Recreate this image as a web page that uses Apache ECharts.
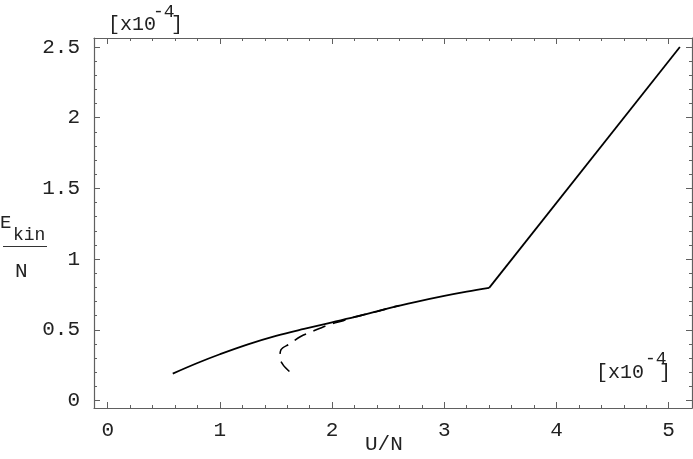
<!DOCTYPE html>
<html>
<head>
<meta charset="utf-8">
<script src="https://cdn.jsdelivr.net/npm/echarts@6/dist/echarts.min.js"></script>
<style>
  html, body { margin: 0; padding: 0; background: #fff; }
  #chart { width: 693px; height: 459px; }
</style>
</head>
<body>
<div id="chart"></div>
<script>
// solid curve: [U/N, Ekin/N] in units of 1e-4 (kink at U/N = 3.4)
let solidU = [0.58, 0.8, 1.0, 1.25, 1.5, 1.75, 2.0, 2.25, 2.5, 2.75, 3.0, 3.2, 3.4, 5.1]
let solidE = [0.19, 0.265, 0.327, 0.397, 0.457, 0.507, 0.553, 0.60, 0.652, 0.698, 0.740, 0.77, 0.797, 2.5]

// dashed branch
let dashU = [1.62, 1.565, 1.535, 1.545, 1.62, 1.72, 1.82, 1.92, 2.0, 2.1, 2.2, 2.3, 2.4, 2.5, 2.6]
let dashE = [0.205, 0.25, 0.30, 0.36, 0.40, 0.453, 0.487, 0.52, 0.543, 0.565, 0.59, 0.61, 0.63, 0.652, 0.672]

let xTicks = [0, 1, 2, 3, 4, 5]
let yTicks = [0, 0.5, 1, 1.5, 2, 2.5]
let yTickLabels = ['0', '0.5', '1', '1.5', '2', '2.5']

let xMin = -0.122, xMax = 5.208
let yMin = -0.053, yMax = 2.564

// minor ticks between majors
let xMinor = []
for (let v = 0; v <= 5.2; v += 0.2) xMinor.push(+v.toFixed(2))
let yMinor = []
for (let v = 0; v <= 2.56; v += 0.1) yMinor.push(+v.toFixed(2))

let font = 'Liberation Mono'
let axisColor = '#606060'
let kink = solidU.indexOf(3.4)

function xAx(pos, ticks, len, withLine, withLabel) {
	return {
		type: 'value', position: pos, min: xMin, max: xMax,
		axisLine: { show: withLine, onZero: false, lineStyle: { color: axisColor, width: 1.2 } },
		axisTick: { show: true, inside: true, length: len, customValues: ticks, lineStyle: { color: axisColor } },
		axisLabel: withLabel ? {
			show: true, customValues: xTicks, margin: 12,
			fontFamily: font, fontSize: 21, color: '#222'
		} : { show: false },
		splitLine: { show: false }
	}
}
function yAx(pos, ticks, len, withLine, withLabel) {
	return {
		type: 'value', position: pos, min: yMin, max: yMax,
		axisLine: { show: withLine, onZero: false, lineStyle: { color: axisColor, width: 1.2 } },
		axisTick: { show: true, inside: true, length: len, customValues: ticks, lineStyle: { color: axisColor } },
		axisLabel: withLabel ? {
			show: true, customValues: yTicks, margin: 14,
			fontFamily: font, fontSize: 21, color: '#222',
			formatter: v => yTickLabels[yTicks.indexOf(+v.toFixed(2))] || ''
		} : { show: false },
		splitLine: { show: false }
	}
}

let chart = echarts.init(document.getElementById('chart'))
let option = {
	animation: false,
	backgroundColor: '#fff',
	grid: { left: 94, right: 1, top: 38, bottom: 51, containLabel: false },
	xAxis: [
		xAx('bottom', xTicks, 6, true, true),
		xAx('bottom', xMinor, 3, false, false),
		xAx('top', xTicks, 6, true, false),
		xAx('top', xMinor, 3, false, false)
	],
	yAxis: [
		yAx('left', yTicks, 6, true, true),
		yAx('left', yMinor, 3, false, false),
		yAx('right', yTicks, 6, true, false),
		yAx('right', yMinor, 3, false, false)
	],
	series: [{
		// curved part up to the kink
		type: 'line',
		xAxisIndex: 0, yAxisIndex: 0,
		data: solidU.slice(0, kink + 1).map((u, i) => [u, solidE[i]]),
		showSymbol: false,
		smooth: 0.4,
		lineStyle: { color: '#000', width: 1.8 }
	}, {
		// straight part after the kink
		type: 'line',
		xAxisIndex: 0, yAxisIndex: 0,
		data: solidU.slice(kink).map((u, i) => [u, solidE[kink + i]]),
		showSymbol: false,
		lineStyle: { color: '#000', width: 1.8 }
	}, {
		type: 'line',
		xAxisIndex: 0, yAxisIndex: 0,
		data: dashU.map((u, i) => [u, dashE[i]]),
		showSymbol: false,
		smooth: 0.3,
		lineStyle: { color: '#000', width: 1.6, type: [13, 8] }
	}],
	graphic: [
		// top axis multiplier
		{ type: 'text', left: 108, top: 15, style: { text: '[x10', font: '20px "Liberation Mono"', fill: '#222' } },
		{ type: 'text', left: 153, top: 3, style: { text: '-4', font: '18px "Liberation Mono"', fill: '#222' } },
		{ type: 'text', left: 171, top: 15, style: { text: ']', font: '20px "Liberation Mono"', fill: '#222' } },
		// bottom right multiplier
		{ type: 'text', left: 596, top: 363, style: { text: '[x10', font: '20px "Liberation Mono"', fill: '#222' } },
		{ type: 'text', left: 645, top: 350, style: { text: '-4', font: '18px "Liberation Mono"', fill: '#222' } },
		{ type: 'text', left: 659, top: 363, style: { text: ']', font: '20px "Liberation Mono"', fill: '#222' } },
		// x axis title
		{ type: 'text', left: 365, top: 434, style: { text: 'U/N', font: '21px "Liberation Mono"', fill: '#222' } },
		// y axis title: E_kin / N
		{ type: 'text', left: 0, top: 213, style: { text: 'E', font: '19px "Liberation Mono"', fill: '#222' } },
		{ type: 'text', left: 13, top: 226, style: { text: 'kin', font: '18px "Liberation Mono"', fill: '#222' } },
		{ type: 'line', shape: { x1: 3, y1: 246.5, x2: 47, y2: 246.5 }, style: { stroke: '#333', lineWidth: 1.2 } },
		{ type: 'text', left: 15, top: 261, style: { text: 'N', font: '21px "Liberation Mono"', fill: '#222' } }
	]
}
chart.setOption(option)
</script>
</body>
</html>
